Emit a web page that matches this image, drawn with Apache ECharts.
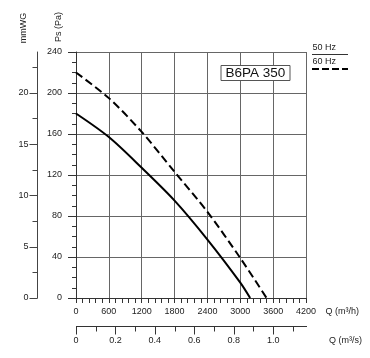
<!DOCTYPE html>
<html>
<head>
<meta charset="utf-8">
<script src="https://cdn.jsdelivr.net/npm/echarts@6/dist/echarts.min.js"></script>
<style>html,body{margin:0;padding:0;background:#fff}#c{width:370px;height:358px}</style>
</head>
<body>
<div id="c"></div>
<script>
// ---- data ----
var seriesNames = ['50 Hz', '60 Hz'];
var q50 = [0, 600, 1200, 1800, 2400, 3000, 3180];
var ps50 = [180, 157, 127, 95, 57, 15, 0];
var q60 = [0, 600, 1200, 1800, 2400, 3000, 3480];
var ps60 = [220, 195, 162, 123, 84, 39, 0];
var qhTicks = [0, 600, 1200, 1800, 2400, 3000, 3600, 4200];
var psTicks = [0, 40, 80, 120, 160, 200, 240];
var mmLabelTicks = [0, 5, 10, 15, 20];
var mmMinorTicks = [2.5, 7.5, 12.5, 17.5, 22.5];
var qsLabelTicks = [0, 0.2, 0.4, 0.6, 0.8, 1.0];
var qsMinorTicks = [0.1, 0.3, 0.5, 0.7, 0.9, 1.1];
var modelName = 'B6PA 350';

var FONT = "'Liberation Sans', Arial, sans-serif";
var chart = echarts.init(document.getElementById('c'), null, {renderer: 'canvas'});

function pairs(xs, ys) { return xs.map(function (x, i) { return [x, ys[i]]; }); }
function plain(v) { return String(v); }
// m³/s tick values expressed on the m³/h scale
function toQh(arr) { return arr.map(function (v) { return Math.round(v * 3600); }); }

var lbl = {color: '#222', fontSize: 9, fontFamily: FONT};
var qhMax = qhTicks[qhTicks.length - 1];
var QS_OFFSET = 28;

var option = {
  animation: false,
  backgroundColor: '#fff',
  title: {
    text: modelName, left: 221, top: 65, padding: [1, 4.5],
    borderWidth: 1, borderColor: '#555', backgroundColor: '#fff',
    textStyle: {fontSize: 13.5, fontWeight: 'normal', color: '#111', fontFamily: FONT}
  },
  grid: {left: 76, top: 52, right: 64, bottom: 60, containLabel: false, outerBoundsMode: 'none'},
  xAxis: [{
    type: 'value', min: qhTicks[0], max: qhMax, interval: 600,
    position: 'bottom',
    axisLine: {show: true, onZero: false, lineStyle: {color: '#333', width: 1}},
    axisTick: {show: true, length: 5, lineStyle: {color: '#333'}},
    minorTick: {show: true, splitNumber: 5, length: 5, lineStyle: {color: '#333'}},
    splitLine: {show: true, lineStyle: {color: '#666', width: 1}},
    axisLabel: Object.assign({margin: 9, formatter: plain}, lbl)
  }, {
    type: 'value', min: 0, max: qhMax,
    position: 'bottom', offset: QS_OFFSET,
    axisLine: {show: false, onZero: false},
    axisTick: {show: false},
    splitLine: {show: false},
    axisLabel: Object.assign({margin: 10, customValues: toQh(qsLabelTicks),
      formatter: function (v) { return v === 0 ? '0' : (v / 3600).toFixed(1); }}, lbl)
  }],
  yAxis: [{
    type: 'value', min: psTicks[0], max: psTicks[psTicks.length - 1], interval: 40,
    position: 'left',
    axisLine: {show: true, onZero: false, lineStyle: {color: '#333', width: 1}},
    axisTick: {show: true, length: 8, lineStyle: {color: '#333'}},
    minorTick: {show: true, splitNumber: 4, length: 4, lineStyle: {color: '#333'}},
    splitLine: {show: true, lineStyle: {color: '#666', width: 1}},
    axisLabel: Object.assign({margin: 14, formatter: plain}, lbl)
  }, {
    type: 'value', min: 0, max: 24, position: 'left', offset: 38.5,
    axisLine: {show: true, onZero: false, lineStyle: {color: '#444', width: 1}},
    axisTick: {show: true, length: 8, customValues: mmLabelTicks, lineStyle: {color: '#444'}},
    splitLine: {show: false},
    axisLabel: Object.assign({margin: 9, customValues: mmLabelTicks, formatter: plain}, lbl)
  }, {
    type: 'value', min: 0, max: 24, position: 'left', offset: 38.5,
    axisLine: {show: false, onZero: false},
    axisTick: {show: true, length: 5, customValues: mmMinorTicks, lineStyle: {color: '#444'}},
    splitLine: {show: false},
    axisLabel: {show: false}
  }],
  series: [{
    name: seriesNames[0], type: 'line', xAxisIndex: 0, yAxisIndex: 0,
    data: pairs(q50, ps50), smooth: 0.3, symbol: 'none',
    lineStyle: {color: '#000', width: 2, type: 'solid'}, z: 5
  }, {
    name: seriesNames[1], type: 'line', xAxisIndex: 0, yAxisIndex: 0,
    data: pairs(q60, ps60), smooth: 0.3, symbol: 'none',
    lineStyle: {color: '#000', width: 2, type: [8, 4]}, z: 5
  }],
  graphic: [
    {type: 'text', x: 23.5, y: 28, rotation: Math.PI / 2,
      style: {text: 'mmWG', fill: '#222', font: '9px ' + FONT, align: 'center', verticalAlign: 'middle'}},
    {type: 'text', x: 59, y: 27, rotation: Math.PI / 2,
      style: {text: 'Ps (Pa)', fill: '#222', font: '9px ' + FONT, align: 'center', verticalAlign: 'middle'}},
    {type: 'text', x: 325.5, y: 312,
      style: {text: 'Q (m³/h)', fill: '#222', font: '9px ' + FONT, align: 'left', verticalAlign: 'middle'}},
    {type: 'text', x: 329, y: 340.5,
      style: {text: 'Q (m³/s)', fill: '#222', font: '9px ' + FONT, align: 'left', verticalAlign: 'middle'}},
    {type: 'text', x: 312.5, y: 47.5,
      style: {text: seriesNames[0], fill: '#222', font: '9px ' + FONT, align: 'left', verticalAlign: 'middle'}},
    {type: 'line', shape: {x1: 312, y1: 54.5, x2: 348, y2: 54.5}, style: {stroke: '#333', lineWidth: 1}},
    {type: 'text', x: 312.5, y: 62,
      style: {text: seriesNames[1], fill: '#222', font: '9px ' + FONT, align: 'left', verticalAlign: 'middle'}},
    {type: 'line', shape: {x1: 312, y1: 69, x2: 348, y2: 69}, style: {stroke: '#000', lineWidth: 2, lineDash: [7, 3]}}
  ]
};
chart.setOption(option);

// secondary Q (m³/s) axis line and ticks, positioned through the main axes' scales
var y0 = chart.convertToPixel({yAxisIndex: 0}, psTicks[0]);
var baseY = Math.round((typeof y0 === 'number' ? y0 : 298) + QS_OFFSET) + 0.5;
function px(v) {
  var p = chart.convertToPixel({xAxisIndex: 0}, v);
  return Math.round(p) + 0.5;
}
var extra = [{type: 'line', z: 100,
  shape: {x1: px(0) - 0.5, y1: baseY, x2: px(qhMax) + 0.5, y2: baseY},
  style: {stroke: '#333', lineWidth: 1}}];
toQh(qsLabelTicks).forEach(function (v) {
  extra.push({type: 'line', z: 100, shape: {x1: px(v), y1: baseY, x2: px(v), y2: baseY + 8},
    style: {stroke: '#333', lineWidth: 1}});
});
toQh(qsMinorTicks).forEach(function (v) {
  extra.push({type: 'line', z: 100, shape: {x1: px(v), y1: baseY, x2: px(v), y2: baseY + 5},
    style: {stroke: '#333', lineWidth: 1}});
});
chart.setOption({graphic: option.graphic.concat(extra)});
</script>
</body>
</html>
